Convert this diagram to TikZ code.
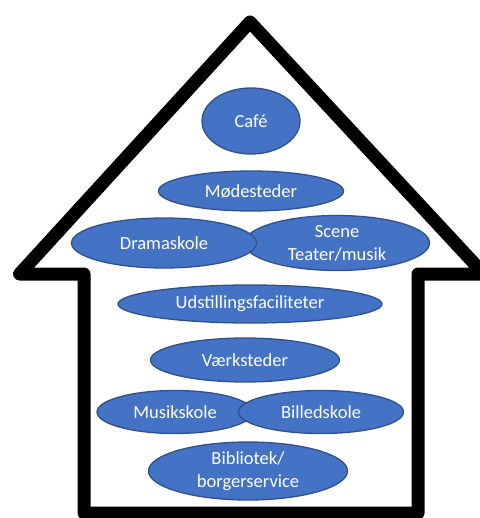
\documentclass[tikz,border=0pt]{standalone}
\usepackage{fontspec}
\setmainfont{Carlito}
\usetikzlibrary{shapes.geometric}
\definecolor{blobfill}{HTML}{4472C4}
\definecolor{blobline}{HTML}{2F528F}
\tikzset{
  blob/.style={ellipse, draw=blobline, line width=1.3pt, fill=blobfill, inner sep=0pt},
  blobtext/.style={text=white, font=\fontsize{18.5}{23}\selectfont, align=center, inner sep=0pt},
  house/.style={draw=black, line width=13pt, line join=round}
}
\begin{document}
\begin{tikzpicture}[x=1pt,y=-1pt]
\useasboundingbox[fill=white] (0,0) rectangle (479,518);
% house outline
\coordinate (bl) at (84,513);
\coordinate (wl) at (84,274);
\coordinate (el) at (19.5,274);
\coordinate (apex) at (250,22);
\coordinate (er) at (484,274);
\coordinate (wr) at (418,274);
\coordinate (br) at (418,513);
\draw[house] (bl) -- (wl) -- (el) -- (apex) -- (er) -- (wr) -- (br) -- cycle;
% ellipses
\node[blob, minimum width=98, minimum height=66] (cafe) at (251,121) {};
\node[blobtext] at (cafe) {Café};
\node[blob, minimum width=185, minimum height=40] (mode) at (251,191) {};
\node[blobtext] at (mode) {Mødesteder};
\node[blob, minimum width=185, minimum height=55] (scene) at (337,243) {};
\node[blobtext] at (scene) {Scene\\Teater/musik};
\node[blob, minimum width=185, minimum height=50] (drama) at (164,243) {};
\node[blobtext] at (drama) {Dramaskole};
\node[blob, minimum width=264, minimum height=38] (udst) at (250,304) {};
\node[blobtext] at (udst) {Udstillingsfaciliteter};
\node[blob, minimum width=189, minimum height=44] (vaerk) at (245,360) {};
\node[blobtext] at (vaerk) {Værksteder};
\node[blob, minimum width=156, minimum height=43] (musik) at (175,412) {};
\node[blobtext] at (musik) {Musikskole};
\node[blob, minimum width=165, minimum height=43] (billed) at (321,412) {};
\node[blobtext] at (billed) {Billedskole};
\node[blob, minimum width=199, minimum height=58] (bib) at (248,471) {};
\node[blobtext] at (bib) {Bibliotek/\\borgerservice};
\end{tikzpicture}
\end{document}
